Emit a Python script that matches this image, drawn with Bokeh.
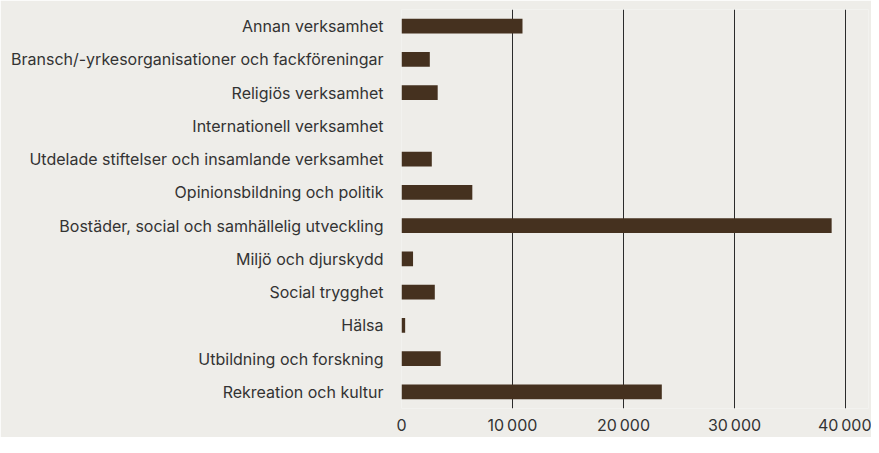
from bokeh.plotting import figure
from bokeh.models import FactorRange, Range1d, FixedTicker
from bokeh.embed import file_html
from bokeh.resources import INLINE

categories = [
    "Annan verksamhet",
    "Bransch/-yrkesorganisationer och fackföreningar",
    "Religiös verksamhet",
    "Internationell verksamhet",
    "Utdelade stiftelser och insamlande verksamhet",
    "Opinionsbildning och politik",
    "Bostäder, social och samhällelig utveckling",
    "Miljö och djurskydd",
    "Social trygghet",
    "Hälsa",
    "Utbildning och forskning",
    "Rekreation och kultur",
]
values = [10900, 2550, 3260, 0, 2730, 6380, 38750, 1040, 3000, 330, 3530, 23450]
tick_values = [0, 10000, 20000, 30000, 40000]
tick_labels = ["0", "10\u202f000", "20\u202f000", "30\u202f000", "40\u202f000"]

BG = "#EEEDE9"
BAR = "#45311F"
TEXT = "#333333"
FONT = "Inter"

factors = list(reversed(categories))

p = figure(
    width=871, height=437,
    y_range=FactorRange(factors=factors),
    x_range=Range1d(0, 42070),
    output_backend="svg", toolbar_location=None,
    background_fill_color=BG, border_fill_color=BG,
    min_border_left=401, min_border_right=3, min_border_top=9, min_border_bottom=21,
)
p.outline_line_color = None

p.hbar(y=categories, right=values, left=0, height=0.44, color=BAR, line_color=None)

p.ygrid.grid_line_color = None
p.xgrid.grid_line_color = "#2b2b2b"
p.xgrid.grid_line_width = 1
p.xgrid.ticker = FixedTicker(ticks=tick_values)

xa = p.xaxis[0]
xa.ticker = FixedTicker(ticks=tick_values)
xa.major_label_overrides = {v: l for v, l in zip(tick_values, tick_labels)}
xa.axis_line_color = None
xa.major_tick_line_color = None
xa.minor_tick_line_color = None
xa.major_tick_out = 0
xa.major_tick_in = 0
xa.major_label_standoff = 6
xa.major_label_text_font = FONT
xa.major_label_text_font_size = "16px"
xa.major_label_text_color = TEXT

ya = p.yaxis[0]
ya.axis_line_color = None
ya.major_tick_line_color = None
ya.minor_tick_line_color = None
ya.major_tick_out = 0
ya.major_tick_in = 0
ya.major_label_standoff = 18
ya.major_label_text_font = FONT
ya.major_label_text_font_size = "16px"
ya.major_label_text_color = TEXT

open("out.html", "w").write(file_html(p, INLINE))
